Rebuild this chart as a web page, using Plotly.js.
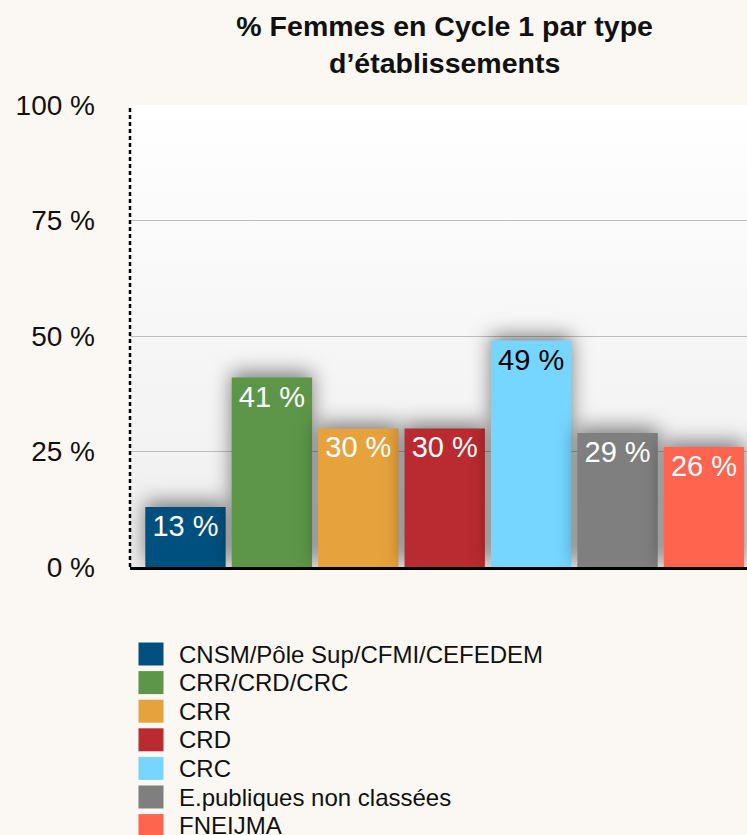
<!DOCTYPE html>
<html>
<head>
<meta charset="utf-8">
<script src="https://cdn.plot.ly/plotly-3.0.1.min.js"></script>
<style>
  html, body { margin: 0; padding: 0; background: #fbf8f3; }
  #chart { width: 747px; height: 835px; }
  .trace.bars .point path { filter: drop-shadow(0px -5px 10px rgba(0,0,0,0.5)); }
</style>
</head>
<body>
<div id="chart"></div>
<script>
// ---- data ----
const categories = [
  "CNSM/Pôle Sup/CFMI/CEFEDEM",
  "CRR/CRD/CRC",
  "CRR",
  "CRD",
  "CRC",
  "E.publiques non classées",
  "FNEIJMA"
];
const values = [13, 41, 30, 30, 49, 29, 26];
const colors = ["#00507f", "#5d9648", "#e6a23c", "#b92b30", "#76d6ff", "#7f7f7f", "#ff644e"];
const labelColors = ["#ffffff", "#ffffff", "#ffffff", "#ffffff", "#000000", "#ffffff", "#ffffff"];
const yTicks = [0, 25, 50, 75, 100];
const titleText = "% Femmes en Cycle 1 par type<br>d’établissements";

// ---- layout constants ----
const W = 747, H = 835;
const mL = 130, mR = 0, mT = 105, mB = 268;
const plotW = W - mL - mR, plotH = H - mT - mB;
const font = "Helvetica Neue, Helvetica, Arial, Liberation Sans, sans-serif";

const traces = categories.map((c, i) => ({
  type: "bar",
  name: c,
  x: [c],
  y: [values[i]],
  width: 0.93,
  marker: { color: colors[i], line: { width: 0 } },
  text: [values[i] + " %"],
  textposition: "inside",
  insidetextanchor: "end",
  textangle: 0,
  textfont: { family: font, size: 29, color: labelColors[i] },
  hoverinfo: "skip",
  showlegend: false
}));

// custom legend (squares + labels) below the plot
const shapes = [];
const annotations = [];
const legTop = 654, legStep = 28.6, sqCx = 151, txtX = 177;
categories.forEach((c, i) => {
  const py = legTop + legStep * i;
  const yp = (H - mB - py) / plotH;
  shapes.push({
    type: "rect", xref: "paper", yref: "paper",
    xsizemode: "pixel", ysizemode: "pixel",
    xanchor: (sqCx - mL) / plotW, yanchor: yp,
    x0: -12.5, x1: 12.5, y0: -11.5, y1: 11.5,
    fillcolor: colors[i], line: { width: 0 }
  });
  annotations.push({
    xref: "paper", yref: "paper",
    x: (txtX - mL) / plotW, y: yp,
    xanchor: "left", yanchor: "middle",
    text: c, showarrow: false,
    font: { family: font, size: 24, color: "#111111" }
  });
});

// dotted left axis
shapes.push({
  type: "line", xref: "paper", yref: "paper",
  x0: 0, x1: 0, y0: 0, y1: 1,
  line: { color: "#000000", width: 2.5, dash: "4px,3px" },
  layer: "above"
});

const gradSvg = "<svg xmlns='http://www.w3.org/2000/svg' width='10' height='100' preserveAspectRatio='none'>" +
  "<defs><linearGradient id='g' x1='0' y1='0' x2='0' y2='1'>" +
  "<stop offset='0' stop-color='#ffffff'/><stop offset='1' stop-color='#eeeeee'/>" +
  "</linearGradient></defs><rect width='10' height='100' fill='url(#g)'/></svg>";

const layout = {
  width: W, height: H,
  margin: { l: mL, r: mR, t: mT, b: mB, pad: 0 },
  paper_bgcolor: "#fbf8f3",
  plot_bgcolor: "rgba(0,0,0,0)",
  font: { family: font, color: "#111111" },
  title: {
    text: titleText,
    font: { family: font, size: 28.5, color: "#111111", weight: "bold" },
    xref: "paper", x: 0.51, xanchor: "center",
    yref: "container", y: 1 - 36 / H, yanchor: "middle"
  },
  barmode: "overlay",
  xaxis: {
    type: "category",
    range: [-0.642, 6.498],
    showticklabels: false,
    ticks: "",
    showgrid: false,
    zeroline: false,
    showline: true,
    linecolor: "#000000",
    linewidth: 3,
    fixedrange: true
  },
  yaxis: {
    range: [0, 100],
    tickvals: yTicks,
    ticktext: yTicks.map(v => v + " %"),
    tickfont: { family: font, size: 28, color: "#111111" },
    ticks: "",
    ticklabelstandoff: 34,
    showgrid: true,
    gridcolor: "#bdbdbd",
    gridwidth: 1,
    zeroline: false,
    showline: false,
    fixedrange: true
  },
  images: [{
    source: "data:image/svg+xml;charset=utf-8," + encodeURIComponent(gradSvg),
    xref: "paper", yref: "paper",
    x: 0, y: 1, sizex: 1, sizey: 1,
    xanchor: "left", yanchor: "top",
    sizing: "stretch", layer: "below"
  }],
  shapes: shapes,
  annotations: annotations,
  showlegend: false
};

Plotly.newPlot("chart", traces, layout, { displayModeBar: false, staticPlot: true });
</script>
</body>
</html>
